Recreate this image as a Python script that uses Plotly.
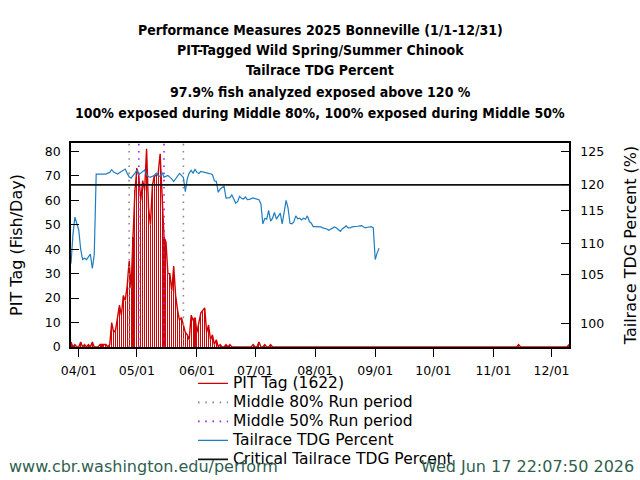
import plotly.graph_objects as go
import pandas as pd

# ---------------- data ----------------
pit_start = "2025-03-28"
pit_counts = [
    2, 0, 1, 0, 0, 2, 0, 1, 0, 1,
    0, 2, 0, 0, 0, 1, 1, 1, 1, 0,
    1, 10, 6, 7, 13, 17, 13, 21, 19, 25,
    35, 24, 45, 64, 73, 70, 60, 68, 64, 81,
    57, 50, 66, 70, 70, 71, 79, 62, 45, 43,
    30, 30, 23, 33, 21, 15, 11, 12, 9, 6,
    5, 3, 13, 11, 12, 6, 10, 14, 15, 16,
    6, 9, 3, 5, 1, 3, 0, 1, 0, 0,
    1, 0, 1, 0, 0, 0, 0, 0, 0, 0,
    0, 0, 0, 0, 1, 0, 0, 2, 0, 0,
    1, 0, 0, 1, 0,
]
late_pit_dates = ["2025-11-13", "2025-11-14", "2025-11-15", "2025-12-09", "2025-12-10"]
late_pit_counts = [0, 1, 0, 0, 1]

tdg_start = "2025-03-28"
tdg_values = [
    108.3, 112.6, 115.2, 114.2, 113.3, 110.4, 108.9, 109.1, 108.9, 109.3,
    109.7, 107.6, 109.6, 121.6, 121.6, 121.6, 121.6, 121.6, 121.6, 121.75,
    121.85, 122.25, 121.9, 121.75, 121.6, 121.8, 122.0, 122.2, 122.35, 121.7,
    121.2, 121.0, 121.3, 121.75, 122.2, 121.5, 121.75, 122.0, 122.2, 121.5,
    121.2, 121.15, 121.3, 121.4, 121.75, 121.4, 121.25, 121.85, 121.15, 121.3,
    121.4, 121.15, 120.9, 120.5, 120.9, 121.3, 121.7, 121.4, 121.1, 119.0,
    120.9, 121.75, 122.15, 121.75, 122.3, 121.85, 121.7, 122.0, 121.9, 121.8,
    121.75, 121.7, 121.65, 121.5, 120.6, 120.5, 118.9, 119.4, 119.6, 119.8,
    118.05, 118.05, 118.1, 118.5, 117.9, 117.3, 117.5, 118.3, 118.0, 117.9,
    118.2, 117.8, 117.85, 117.95, 118.05, 117.95, 117.9, 117.8, 117.2, 114.2,
    115.0, 114.9, 116.2, 114.6, 115.05, 115.9, 114.9, 115.3, 115.8, 114.2,
    116.1, 117.7, 116.6, 114.3, 114.2, 114.5, 115.4, 114.95, 115.05, 114.8,
    115.05, 114.9, 115.4, 114.55, 114.3, 113.8, 113.8, 113.8, 113.8, 113.75,
    113.6, 113.55, 113.45, 113.25, 113.45, 113.6, 113.75, 113.6, 113.35, 113.1,
    113.45, 113.75, 113.9, 113.6, 113.6, 113.75, 113.75, 113.8, 113.85, 113.9,
    113.95, 113.75, 113.6, 113.7, 113.75, 113.8, 113.6, 108.9, 109.9, 110.6,
]
critical_tdg = 120
run80_dates = ["2025-04-27", "2025-05-25"]
run50_dates = ["2025-05-02", "2025-05-15"]
x_range = ["2025-03-28", "2025-12-10"]

title_lines = [
    "Performance Measures 2025 Bonneville (1/1-12/31)",
    "PIT-Tagged Wild Spring/Summer Chinook",
    "Tailrace TDG Percent",
    "97.9% fish analyzed exposed above 120 %",
    "100% exposed during Middle 80%, 100% exposed during Middle 50%",
]
right_tick_text = ["125", "120", "115", "110", "105", "100"]
footer_left = "www.cbr.washington.edu/perform"
footer_right = "Wed Jun 17 22:07:50 2026"
pit_total = 1622

# ---------------- build ----------------
pit_dates = list(pd.date_range(pit_start, periods=len(pit_counts), freq="D")) + list(pd.to_datetime(late_pit_dates))
pit_all = pit_counts + late_pit_counts
tdg_dates = pd.date_range(tdg_start, periods=len(tdg_values), freq="D")

Y1_MAX = 83.4
Y2_RANGE = [95.91, 126.22]

RED = "#D00000"
BAR_RED = "rgba(208,0,0,0.99)"
BLUE = "#1F7DC0"
FONT = "DejaVu Sans"
LEG_TXT = 'style="font-size:15.5px"'


def leg(name):
    return f"<span {LEG_TXT}>{name}</span>"


fig = go.Figure()

fig.add_trace(go.Bar(
    x=pit_dates, y=pit_all, width=0.55 * 86400000,
    marker=dict(color=BAR_RED, line=dict(width=0)),
    showlegend=False, hoverinfo="skip", yaxis="y",
))
fig.add_trace(go.Scatter(
    x=pit_dates, y=pit_all, mode="lines",
    line=dict(color=RED, width=1.4),
    name=leg(f"PIT Tag ({pit_total})"), yaxis="y",
))


def vlines(dates):
    xs, ys = [], []
    for d in dates:
        xs += [d, d, None]
        ys += [0, Y1_MAX, None]
    return xs, ys


x80, y80 = vlines(run80_dates)
fig.add_trace(go.Scatter(
    x=x80, y=y80, mode="lines",
    line=dict(color="#888888", width=1.6, dash="1.6px,5.6px"),
    name=leg("Middle 80% Run period"), yaxis="y",
))
x50, y50 = vlines(run50_dates)
fig.add_trace(go.Scatter(
    x=x50, y=y50, mode="lines",
    line=dict(color="#A020F0", width=1.6, dash="1.6px,5.6px"),
    name=leg("Middle 50% Run period"), yaxis="y",
))
fig.add_trace(go.Scatter(
    x=tdg_dates, y=tdg_values, mode="lines",
    line=dict(color=BLUE, width=1.2),
    name=leg("Tailrace TDG Percent"), yaxis="y2",
))
fig.add_trace(go.Scatter(
    x=x_range, y=[critical_tdg, critical_tdg], mode="lines",
    line=dict(color="#111111", width=1.8),
    name=leg("Critical Tailrace TDG Percent"), yaxis="y2",
))

tickfont = dict(family=FONT, size=12.5, color="black")

fig.update_layout(
    width=640, height=480,
    margin=dict(l=71, r=71, t=143, b=133, pad=0, autoexpand=False),
    paper_bgcolor="white", plot_bgcolor="white",
    bargap=0,
    showlegend=True,
    legend=dict(
        x=0.245, y=-0.107, xanchor="left", yanchor="top",
        bgcolor="rgba(0,0,0,0)", borderwidth=0,
        font=dict(family=FONT, size=12.3, color="black"),
        traceorder="normal", itemwidth=30,
    ),
    xaxis=dict(
        type="date", range=x_range, automargin=False,
        tick0="2025-04-01", dtick="M1", tickformat="%m/%d",
        ticks="outside", ticklen=8, tickwidth=1, tickcolor="black",
        ticklabelstandoff=3,
        showline=True, linecolor="black", linewidth=1.5, mirror=True,
        showgrid=False, zeroline=False, tickfont=tickfont,
    ),
    yaxis=dict(
        range=[0, Y1_MAX], tickvals=[0, 10, 20, 30, 40, 50, 60, 70, 80],
        automargin=False,
        ticks="inside", ticklen=8, tickwidth=1, tickcolor="black",
        ticklabelstandoff=6,
        showline=True, linecolor="black", linewidth=1.5, mirror=True,
        showgrid=False, zeroline=False, tickfont=tickfont,
        title=dict(text="PIT Tag (Fish/Day)", font=dict(family=FONT, size=16, color="black"), standoff=18),
    ),
    yaxis2=dict(
        overlaying="y", side="right", range=Y2_RANGE, automargin=False,
        tickvals=[125, 120, 116.16, 111.26, 106.65, 99.37], ticktext=right_tick_text,
        ticks="inside", ticklen=8, tickwidth=1, tickcolor="black",
        ticklabelstandoff=7,
        showline=True, linecolor="black", linewidth=1.5,
        showgrid=False, zeroline=False, tickfont=tickfont,
        title=dict(text="Tailrace TDG Percent (%)", font=dict(family=FONT, size=16, color="black"), standoff=34),
    ),
)

# title lines (pixel rows; plot spans rows 143..347)
title_rows = [30, 50, 70.5, 91.5, 112.5]
for txt, row in zip(title_lines, title_rows):
    fig.add_annotation(
        text=f"<b>{txt}</b>", xref="paper", yref="paper",
        x=0.5, y=(347 - row) / 204, xanchor="center", yanchor="middle",
        showarrow=False,
        font=dict(family="DejaVu Sans Condensed, Liberation Sans", size=14, color="black"),
    )

fig.add_annotation(
    text=footer_left, xref="paper", yref="paper",
    x=(7 - 71) / 498, y=(347 - 466) / 204, xanchor="left", yanchor="middle",
    showarrow=False, font=dict(family=FONT, size=16, color="#2F5F4F"),
)
fig.add_annotation(
    text=footer_right, xref="paper", yref="paper",
    x=(636 - 71) / 498, y=(347 - 466) / 204, xanchor="right", yanchor="middle",
    showarrow=False, font=dict(family=FONT, size=16, color="#2F5F4F"),
)

fig.write_html("out.html")
